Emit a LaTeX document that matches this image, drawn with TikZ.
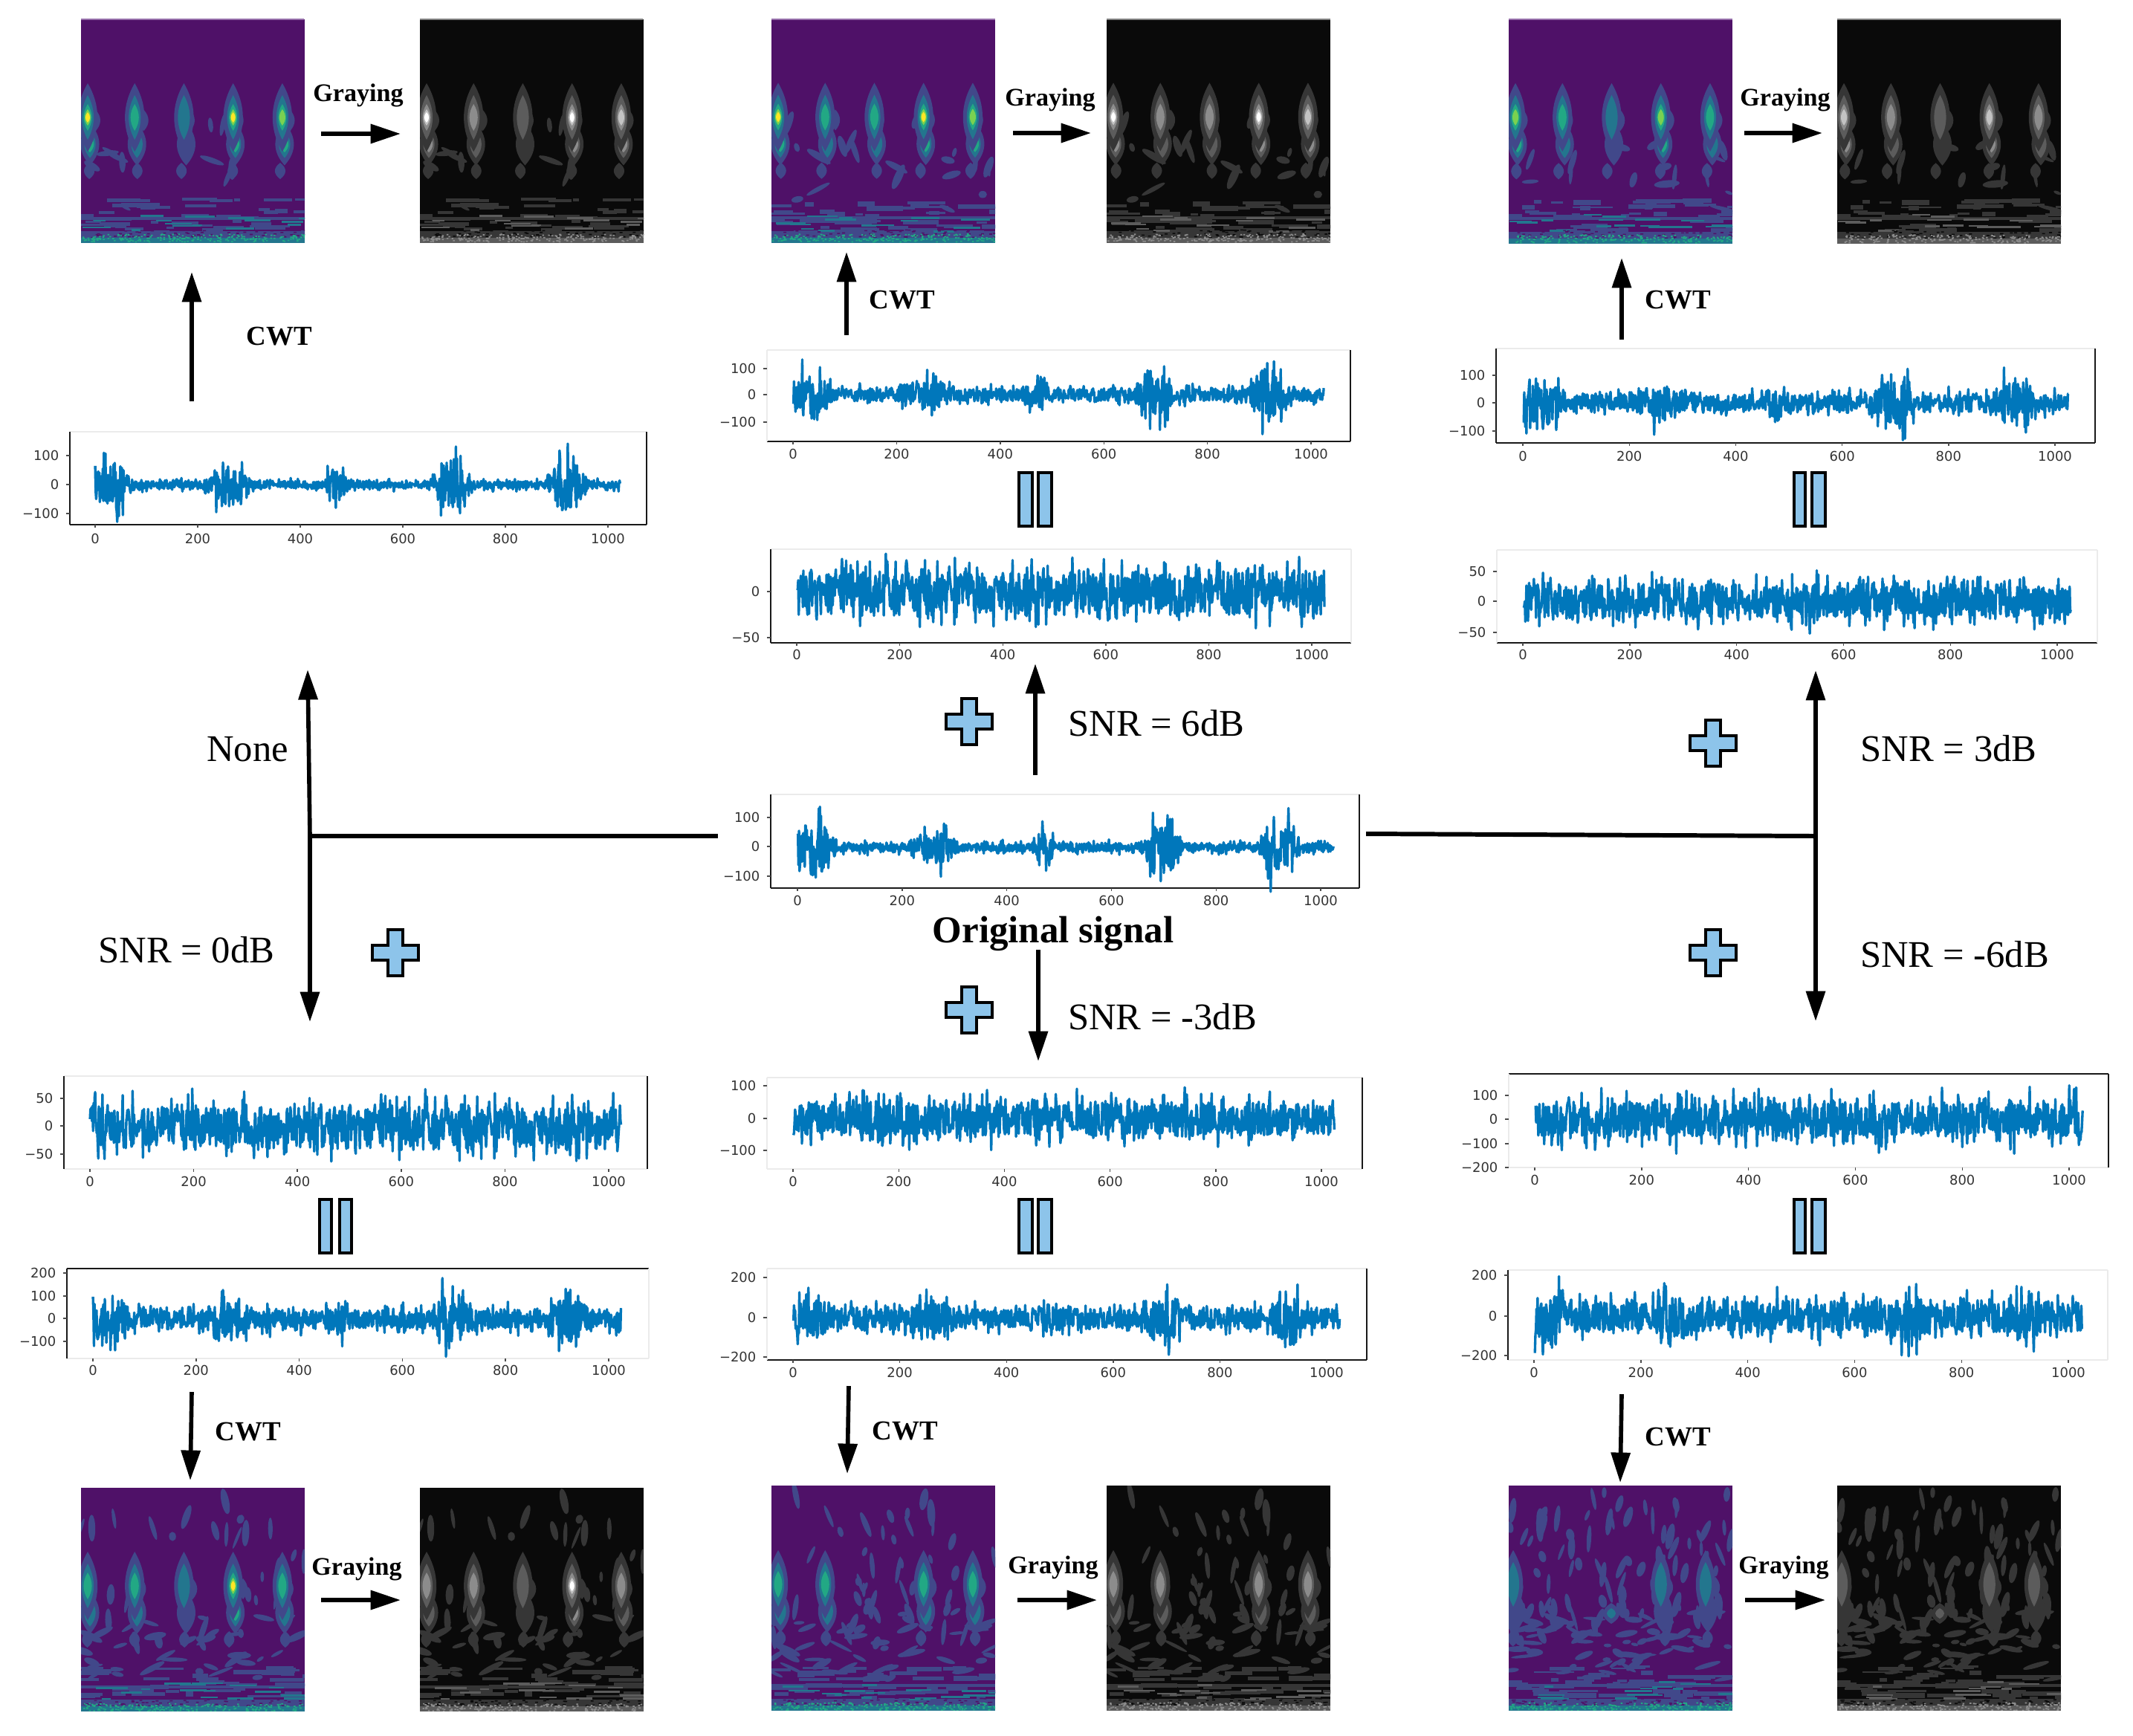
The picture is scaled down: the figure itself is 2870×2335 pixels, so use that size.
\documentclass[tikz,border=0pt]{standalone}
\usepackage{fontspec}
\setmainfont{Liberation Serif}
\newfontfamily\tickfont{DejaVu Sans}
\usetikzlibrary{arrows.meta}
\def\pxu{0.28453pt}
\definecolor{sigblue}{RGB}{0,119,187}
\definecolor{spk}{RGB}{25,25,25}
\definecolor{spl}{RGB}{235,235,235}
\definecolor{symblue}{RGB}{141,196,234}
\definecolor{tealspot}{RGB}{35,118,142}
\definecolor{grayspot}{RGB}{92,92,92}
\definecolor{tealwide}{RGB}{65,72,138}
\definecolor{graywide}{RGB}{54,54,54}
\tikzset{
 arr/.style={line width=1.6pt,-{Triangle[length=11.5pt,width=7.2pt]}},
 ln/.style={line width=1.7pt},
 spine/.style={line width=0.7pt},
 ticksm/.style={line width=0.4pt,black!70},
 ticklab/.style={inner sep=0pt,text=black!80,font=\tickfont\fontsize{5.1pt}{6pt}\selectfont},
 panelbox/.style={inner sep=0pt,outer sep=0pt,draw=none},
 imgbox/.style={inner sep=0pt,outer sep=0pt,draw=none,anchor=north west},
 snr/.style={inner sep=0pt,font=\fontsize{14.4pt}{17pt}\selectfont},
 gray lab/.style={inner sep=0pt,font=\bfseries\fontsize{9.7pt}{12pt}\selectfont},
 cwt lab/.style={inner sep=0pt,font=\bfseries\fontsize{10.5pt}{12pt}\selectfont},
 sym/.style={fill=symblue,draw=black,line width=1pt,line join=miter}
}
% ---- fast pseudo-random numbers and traces
\newcount\sgR \newcount\sgT \newcount\sgI \newcount\sgD
\newdimen\sgE \newdimen\sgV \newdimen\sgA \newdimen\sgB \newdimen\sgC \newdimen\sgX \newdimen\sgY
\def\sgnext{\sgR=\numexpr\sgR*25173+13849\relax \sgT=\sgR \divide\sgT by 65536 \multiply\sgT by 65536 \advance\sgR by -\sgT}
\def\sgburst#1#2#3{%
 \ifnum\sgI<#2 \sgD=\numexpr#2-\sgI\relax\else\sgD=\numexpr\sgI-#2\relax\fi
 \ifnum\sgD<#3
  \sgV=\dimexpr1.7pt*\numexpr#3-\sgD\relax/#3\relax
  \ifdim\sgV>1pt \sgV=1pt\fi
  \advance\sgE by #1\sgV
 \fi}
\newcommand{\sigtrace}[7]{% x0,x1000,y0,unit,seed,base,burst
 \sgR=\numexpr#5*977\relax
 \begin{pgfscope}
 \pgfsetstrokecolor{sigblue}\pgfsetlinewidth{0.95pt}\pgfsetroundjoin
 \sgI=0
 \loop
  \sgE=0pt
  \sgburst{1}{28}{48}\sgburst{.6}{258}{52}\sgburst{.5}{470}{26}\sgburst{1}{695}{42}\sgburst{1}{920}{42}%
  \sgA=\dimexpr#6pt+#7\sgE\relax
  \sgnext \sgB=\sgR sp \multiply\sgB by 2 \advance\sgB by -1pt
  \sgnext \sgC=\sgR sp \sgV=\sgC
  \sgV=\dimexpr\sgV*\number\sgC/65536\relax
  \sgV=\dimexpr\sgV*\number\sgC/65536\relax
  \sgV=\dimexpr.6pt+.72\sgV\relax
  \sgA=\dimexpr\sgA*\number\sgB/65536\relax
  \sgA=\dimexpr\sgA*\number\sgV/65536\relax
  \sgA=#4\sgA
  \sgY=\dimexpr-#3pt+\sgA\relax
  \sgX=\dimexpr#1pt+1pt*\numexpr\sgI*(#2-#1)\relax/1000\relax
  \sgX=.28453\sgX \sgY=.28453\sgY
  \ifnum\sgI=0 \pgfpathmoveto{\pgfqpoint{\sgX}{\sgY}}\else\pgfpathlineto{\pgfqpoint{\sgX}{\sgY}}\fi
  \advance\sgI by 1
 \ifnum\sgI<1024 \repeat
 \pgfusepath{stroke}
 \end{pgfscope}
}
\newcommand{\speckles}[8]{% colour,x,y,w,h,count,rw,rh
 \begin{pgfscope}
 \pgfsetfillcolor{#1}
 \sgI=0
 \loop
  \sgnext \sgC=\sgR sp \sgX=\dimexpr#2pt+#4\sgC\relax
  \sgnext \sgC=\sgR sp \sgY=\dimexpr#3pt+#5\sgC\relax
  \pgfpathrectangle{\pgfqpoint{.28453\sgX}{-.28453\sgY}}{\pgfqpoint{#7pt}{#8pt}}
  \advance\sgI by 1
 \ifnum\sgI<#6 \repeat
 \pgfusepath{fill}
 \end{pgfscope}
}
% ---- signal panels
\newcommand{\sigpanel}[9]{%
 \def\pb{#5}\def\pl{#2}%
 \node[panelbox,anchor=north west,minimum width={(#3-#2)*\pxu},minimum height={(#5-#4)*\pxu}] (#1) at (#2,#4) {};
 \draw[spine,draw=#8] (#2,#4)--(#3,#4);
 \draw[spine,draw=#9] (#2,#5)--(#3,#5);
 \draw[spine,draw=#6] (#2,#4)--(#2,#5);
 \draw[spine,draw=#7] (#3,#4)--(#3,#5);
}
\newcommand{\sigaxes}[5]{% name,x0,x1000,labely,ylist
 \foreach \v in {0,200,...,1000}{%
  \pgfmathsetmacro\xx{#2+\v/1000*(#3-#2)}
  \draw[ticksm] (\xx,\pb)--(\xx,\pb+4);
  \node[ticklab] (#1x\v) at (\xx,#4) {\v};
 }
 \foreach \lab/\py [count=\n] in {#5}{%
  \draw[ticksm] (\pl,\py)--(\pl-5,\py);
  \node[ticklab,anchor=east] (#1y\n) at (\pl-14,\py) {\lab};
 }
}
% ---- spectrogram images
\newcommand{\usepal}[1]{%
 \ifx#1C
  \definecolor{cbg}{RGB}{79,17,104}\definecolor{col1}{RGB}{65,72,138}
  \definecolor{col2}{RGB}{35,118,142}\definecolor{col3}{RGB}{34,168,132}
  \definecolor{col4}{RGB}{122,209,81}\definecolor{col5}{RGB}{253,231,37}
 \else
  \definecolor{cbg}{RGB}{10,10,10}\definecolor{col1}{RGB}{54,54,54}
  \definecolor{col2}{RGB}{92,92,92}\definecolor{col3}{RGB}{140,140,140}
  \definecolor{col4}{RGB}{195,195,195}\definecolor{col5}{RGB}{255,255,255}
 \fi
}
% lens-shaped blob: colour, x, y, half width, half height
\newcommand{\lens}[5]{%
 \fill[#1] (#2,#3-#5) .. controls (#2+1.35*#4,#3-.35*#5) and (#2+1.35*#4,#3+.35*#5) .. (#2,#3+#5)
   .. controls (#2-1.35*#4,#3+.35*#5) and (#2-1.35*#4,#3-.35*#5) .. cycle;
}
\newcommand{\specone}[9]{% name,x,y,w,h,seed,nvert,nhor,levels
 \node[imgbox,fill=cbg,minimum width={#4*\pxu},minimum height={#5*\pxu}] (#1) at (#2,#3) {};
 \begin{scope}
 \clip (#2,#3) rectangle ++(#4,#5);
 \pgfmathsetseed{#6}
 \pgfmathsetmacro\vmin{#7<20?.42:.03}
 \foreach \i in {1,...,#7}{%
  \pgfmathsetmacro\bx{#2+rnd*#4}\pgfmathsetmacro\by{#3+(\vmin+rnd*(.72-\vmin))*#5}
  \pgfmathsetmacro\rx{2+rnd*3.5}\pgfmathsetmacro\ry{6+rnd*13}\pgfmathsetmacro\an{rnd*50-25}
  \fill[col1,rotate around={\an:(\bx,\by)}] (\bx,\by) ellipse [x radius=\rx,y radius=\ry];
 }
 \foreach \i in {1,...,#8}{%
  \pgfmathsetmacro\bx{#2+rnd*#4}\pgfmathsetmacro\by{#3+(.56+rnd*.3)*#5}
  \pgfmathsetmacro\rx{5+rnd*15}\pgfmathsetmacro\ry{2+rnd*3}\pgfmathsetmacro\an{rnd*70-35}
  \fill[col1,rotate around={\an:(\bx,\by)}] (\bx,\by) ellipse [x radius=\rx,y radius=\ry];
 }
 \foreach \uu/\lev in {#9}{%
  \pgfmathsetmacro\bx{#2+\uu*#4}
  \pgfmathsetmacro\by{#3+.44*#5}
  \pgfmathsetmacro\cy{#3+.56*#5}
  \pgfmathsetmacro\dy{#3+.68*#5}
  \pgfmathsetmacro\ex{\bx+rnd*12-6}
  \lens{col1}{\ex}{\dy}{7}{11}
  \pgfmathsetmacro\sd{\bx+6+rnd*8}
  \lens{col1}{\sd}{\by+4}{6}{14}
  \pgfmathtruncatemacro\lo{min(\lev-1,3)}
  \ifnum\lo>0
   \foreach \k in {1,...,\lo}{%
    \pgfmathsetmacro\rx{.95*{13,8,5.5,4,3}[\k-1]}\pgfmathsetmacro\ry{.62*{46,30,18,11,7}[\k-1]}
    \lens{col\k}{\bx+3}{\cy}{\rx}{\ry}
   }
  \fi
  \foreach \k in {1,...,\lev}{%
   \pgfmathsetmacro\rx{{13,8,5.5,4,3}[\k-1]}\pgfmathsetmacro\ry{{46,30,18,11,7}[\k-1]}
   \lens{col\k}{\bx}{\by}{\rx}{\ry}
  }
 }
 % bands low in the picture
 \foreach \i in {1,...,46}{%
  \pgfmathsetmacro\bx{#2-20+rnd*(#4+20)}\pgfmathsetmacro\by{#3+(.8+rnd*.15)*#5}
  \pgfmathsetmacro\bw{8+rnd*48}\pgfmathsetmacro\bh{2.5+rnd*4}
  \fill[col1] (\bx,\by) rectangle ++(\bw,\bh);
 }
 \fill[col1] (#2,#3+.885*#5) rectangle ++(#4,4);
 \fill[col1] (#2,#3+.95*#5) rectangle ++(#4,.04*#5);
 \foreach \i in {1,...,16}{%
  \pgfmathsetmacro\bx{#2+rnd*#4}\pgfmathsetmacro\by{#3+(.87+rnd*.08)*#5}
  \pgfmathsetmacro\bw{12+rnd*32}
  \fill[col2] (\bx,\by) rectangle ++(\bw,2.5);
 }
 \sgR=\numexpr#6*331\relax
 \pgfmathsetmacro\ya{#3+.945*#5}\pgfmathsetmacro\yb{#3+.966*#5}\pgfmathsetmacro\yc{#3+.98*#5}\pgfmathsetmacro\yh{.035*#5}
 \speckles{cbg}{#2}{\ya}{#4}{11}{60}{1.1}{.45}
 \fill[col2] (#2,\yc) rectangle ++(#4,.025*#5);
 \speckles{col3}{#2}{\yb}{#4}{\yh}{220}{.7}{.5}
 \end{scope}
}
\newcommand{\specpair}[9]{% id,xc,xg,ytop,h,seed,nvert,nhor,levels
 \begingroup\usepal{C}\specone{#1c}{#2}{#4}{301}{#5}{#6}{#7}{#8}{#9}\endgroup
 \begingroup\usepal{G}\specone{#1g}{#3}{#4}{301}{#5}{#6}{#7}{#8}{#9}\endgroup
}
\newcommand{\eqsym}[5]{% x1,x2,x3,x4,ytop + fixed height
 \draw[sym] (#1,#5+2) rectangle (#2,#5+74);
 \draw[sym] (#3,#5+2) rectangle (#4,#5+74);
}
\newcommand{\pluss}[2]{%
 \draw[sym] (#1-10,#2-31)--(#1+10,#2-31)--(#1+10,#2-10)--(#1+31,#2-10)--(#1+31,#2+10)--(#1+10,#2+10)--(#1+10,#2+31)--(#1-10,#2+31)--(#1-10,#2+10)--(#1-31,#2+10)--(#1-31,#2-10)--(#1-10,#2-10)--cycle;
}
\begin{document}
\begin{tikzpicture}[x=0.01cm,y=-0.01cm]
\fill[white] (0,0) rectangle (2870,2335);
\useasboundingbox (0,0) rectangle (2870,2335);

% ===== spectrograms
\specpair{ta}{109}{565}{26}{300}{11}{5}{6}{.03/5,.24/3,.46/2,.68/5,.90/4}
\specpair{tb}{1038}{1489}{25}{301}{12}{14}{8}{.03/5,.24/3,.46/3,.68/5,.90/4}
\specpair{tc}{2030}{2472}{25}{302}{13}{9}{8}{.03/4,.24/3,.46/2,.68/4,.90/3}
\specpair{ba}{109}{565}{2002}{300}{14}{30}{36}{.03/3,.24/3,.46/2,.68/5,.90/3}
\specpair{bb}{1038}{1489}{1999}{302}{15}{48}{42}{.03/3,.24/3,.68/3,.90/3}
\specpair{bc}{2030}{2472}{1999}{302}{16}{90}{60}{.02/2,.68/2,.88/2}
% extra spot of the lowest-SNR image
\lens{tealwide}{2168}{2171}{11}{14}
\lens{tealspot}{2168}{2171}{6}{7}
\lens{graywide}{2610}{2171}{11}{14}
\lens{grayspot}{2610}{2171}{6}{7}
% top edge of the top row
\draw[line width=0.6pt,draw={rgb,255:red,150;green,110;blue,170}] (1038,26)--(1339,26) (2030,26)--(2331,26) (109,26)--(409,26);
\draw[line width=0.6pt,gray] (1489,26)--(1790,26) (2472,26)--(2773,26) (565,26)--(865,26);

% ===== signal panels
% None
\sigpanel{sNone}{94}{870}{581}{706}{spk}{spk}{spl}{spk}
\sigtrace{128}{818}{652}{.3875}{21}{22}{105}
\sigaxes{sNone}{128}{818}{725}{100/613,0/652,−100/691}
% 6 dB
\sigpanel{sSix}{1032}{1817}{471}{594}{spl}{spk}{spl}{spk}
\sigtrace{1067}{1764}{531}{.36}{22}{36}{85}
\sigaxes{sSix}{1067}{1764}{611}{100/496,0/531,−100/568}
\sigpanel{nSix}{1037}{1818}{739}{865}{spk}{spl}{spl}{spk}
\sigtrace{1072}{1765}{796}{1.24}{23}{34}{0}
\sigaxes{nSix}{1072}{1765}{881}{0/796,−50/858}
% original
\sigpanel{orig}{1037}{1829}{1069}{1195}{spk}{spk}{spl}{spk}
\sigtrace{1073}{1777}{1139.5}{.39}{24}{22}{105}
\sigaxes{orig}{1073}{1777}{1212}{100/1100,0/1139,−100/1179}
% 3 dB
\sigpanel{sThree}{2013}{2819}{469}{596}{spk}{spk}{spl}{spk}
\sigtrace{2049}{2765}{542}{.375}{25}{46}{80}
\sigaxes{sThree}{2049}{2765}{614}{100/505,0/542,−100/580}
\sigpanel{nThree}{2014}{2822}{740}{865}{spl}{spl}{spl}{spk}
\sigtrace{2049}{2768}{809}{.82}{26}{42}{0}
\sigaxes{nThree}{2049}{2768}{881}{50/769,0/809,−50/851}
% 0 dB
\sigpanel{nZero}{86}{871}{1448}{1573}{spk}{spk}{spl}{spl}
\sigtrace{121}{819}{1515}{.75}{27}{55}{0}
\sigaxes{nZero}{121}{819}{1590}{50/1478,0/1515,−50/1553}
\sigpanel{sZero}{90}{873}{1707}{1828}{spk}{spl}{spk}{spl}
\sigtrace{125}{819}{1774}{.307}{28}{62}{90}
\sigaxes{sZero}{125}{819}{1844}{200/1713,100/1744,0/1774,−100/1805}
% -3 dB
\sigpanel{nMthree}{1032}{1833}{1450}{1573}{spl}{spk}{spl}{spl}
\sigtrace{1067}{1778}{1505}{.4375}{29}{78}{0}
\sigaxes{nMthree}{1067}{1778}{1590}{100/1461,0/1505,−100/1548}
\sigpanel{sMthree}{1032}{1839}{1707}{1830}{spl}{spk}{spl}{spk}
\sigtrace{1067}{1785}{1773}{.2675}{30}{78}{85}
\sigaxes{sMthree}{1067}{1785}{1847}{200/1719,0/1773,−200/1826}
% -6 dB
\sigpanel{nMsix}{2030}{2837}{1445}{1571}{spl}{spk}{spk}{spl}
\sigtrace{2065}{2784}{1506}{.323}{31}{112}{0}
\sigaxes{nMsix}{2065}{2784}{1588}{100/1474,0/1506,−100/1539,−200/1571}
\sigpanel{sMsix}{2029}{2836}{1709}{1830}{spk}{spl}{spl}{spl}
\sigtrace{2064}{2783}{1771}{.27}{32}{112}{60}
\sigaxes{sMsix}{2064}{2783}{1847}{200/1716,0/1771,−200/1824}

% ===== connector ends
\coordinate (hubL) at (417,1125);
\coordinate (origL) at (966,1125);
\coordinate (noneTip) at (414,901);
\coordinate (zeroTip) at (417,1375);
\coordinate (origR) at (1838,1122);
\coordinate (hubR) at (2443,1125);
\coordinate (threeTip) at (2443,902);
\coordinate (msixTip) at (2443,1374);
\coordinate (sixS) at (1393,1043);
\coordinate (sixTip) at (1393,893);
\coordinate (mthreeS) at (1397,1278);
\coordinate (mthreeTip) at (1397,1428);

\draw[ln] (origL)--(hubL);
\draw[arr] (hubL)--(noneTip);
\draw[arr] (hubL)--(zeroTip);
\draw[ln] (origR)--(hubR);
\draw[arr] (hubR)--(threeTip);
\draw[arr] (hubR)--(msixTip);
\draw[arr] (sixS)--(sixTip);
\draw[arr] (mthreeS)--(mthreeTip);

% CWT arrows
\coordinate (c1s) at (258,540);  \coordinate (c1e) at (258,366);
\coordinate (c2s) at (1139,451); \coordinate (c2e) at (1139,339);
\coordinate (c3s) at (2182,457); \coordinate (c3e) at (2182,347);
\coordinate (c4s) at (258,1873); \coordinate (c4e) at (256,1992);
\coordinate (c5s) at (1142,1865);\coordinate (c5e) at (1140,1983);
\coordinate (c6s) at (2182,1876);\coordinate (c6e) at (2180,1995);
\foreach \n in {1,...,6}{\draw[arr] (c\n s)--(c\n e);}
% Graying arrows
\coordinate (g1s) at (432,180);  \coordinate (g1e) at (539,180);
\coordinate (g2s) at (1363,179); \coordinate (g2e) at (1468,179);
\coordinate (g3s) at (2347,179); \coordinate (g3e) at (2452,179);
\coordinate (g4s) at (432,2153); \coordinate (g4e) at (539,2153);
\coordinate (g5s) at (1369,2153);\coordinate (g5e) at (1476,2153);
\coordinate (g6s) at (2348,2153);\coordinate (g6e) at (2456,2153);
\foreach \n in {1,...,6}{\draw[arr] (g\n s)--(g\n e);}

% ===== symbols
\pluss{1304}{971}
\pluss{2305}{1000}
\pluss{532}{1282}
\pluss{2305}{1282}
\pluss{1304}{1359}
\eqsym{1371}{1389}{1397}{1415}{634}
\eqsym{2414}{2429}{2438}{2456}{634}
\eqsym{430}{446}{457}{473}{1612}
\eqsym{1371}{1389}{1397}{1415}{1612}
\eqsym{2414}{2429}{2438}{2456}{1612}

% ===== labels
\node[gray lab] (lg1) at (482,128) {Graying};
\node[gray lab] (lg2) at (1413,134) {Graying};
\node[gray lab] (lg3) at (2402,134) {Graying};
\node[gray lab] (lg4) at (480,2111) {Graying};
\node[gray lab] (lg5) at (1417,2109) {Graying};
\node[gray lab] (lg6) at (2400,2109) {Graying};
\node[cwt lab] (lc1) at (376,453) {CWT};
\node[cwt lab] (lc2) at (1214,404) {CWT};
\node[cwt lab] (lc3) at (2258,404) {CWT};
\node[cwt lab] (lc4) at (334,1927) {CWT};
\node[cwt lab] (lc5) at (1218,1926) {CWT};
\node[cwt lab] (lc6) at (2258,1934) {CWT};
\node[snr] (lnone) at (333,1008) {None};
\node[snr] (lzero) at (251,1278) {SNR = 0dB};
\node[snr] (lsix) at (1556,973) {SNR = 6dB};
\node[snr] (lthree) at (2622,1007) {SNR = 3dB};
\node[snr] (lmsix) at (2630,1284) {SNR = -6dB};
\node[snr] (lmthree) at (1564,1368) {SNR = -3dB};
\node[inner sep=0pt,font=\bfseries\fontsize{14.5pt}{17pt}\selectfont] (lorig) at (1417,1256) {Original signal};
\end{tikzpicture}
\end{document}
